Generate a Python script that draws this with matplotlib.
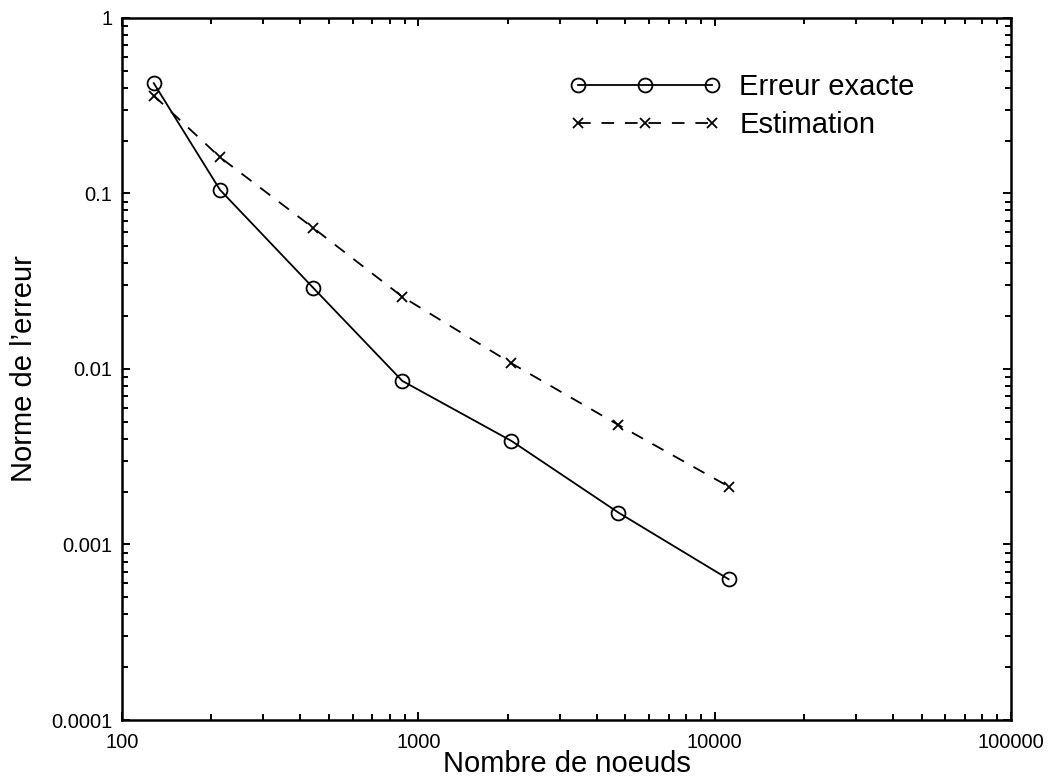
import matplotlib
matplotlib.use("Agg")
import matplotlib.pyplot as plt
from matplotlib.ticker import LogLocator, FixedLocator, FixedFormatter, NullFormatter

plt.rcParams['font.family'] = ['Liberation Sans', 'DejaVu Sans']

# nombre de noeuds du maillage
noeuds = [128, 214, 441, 883, 2062, 4732, 11145]
# norme de l'erreur
erreur_exacte = [0.425, 0.105, 0.0291, 0.00855, 0.00389, 0.00152, 0.000634]
estimation = [0.361, 0.161, 0.0638, 0.0258, 0.01077, 0.0048, 0.00214]

x_ticks = [100, 1000, 10000, 100000]
x_labels = ["100", "1000", "10000", "100000"]
y_ticks = [0.0001, 0.001, 0.01, 0.1, 1]
y_labels = ["0.0001", "0.001", "0.01", "0.1", "1"]

fig = plt.figure(figsize=(10.49, 7.81), dpi=100)
ax = fig.add_axes([0.1163, 0.0781, 0.8475, 0.8989])

ax.plot(noeuds, erreur_exacte, color="black", lw=1.3, marker="o", ms=10,
        mfc="none", mec="black", mew=1.3, label="Erreur exacte")
ax.plot(noeuds, estimation, color="black", lw=1.3, ls=(0, (7, 6)), marker="x",
        ms=7, mec="black", mew=1.3, label="Estimation")

ax.set_xscale("log")
ax.set_yscale("log")
ax.set_xlim(100, 100000)
ax.set_ylim(0.0001, 1)

ax.xaxis.set_major_locator(FixedLocator(x_ticks))
ax.xaxis.set_major_formatter(FixedFormatter(x_labels))
ax.yaxis.set_major_locator(FixedLocator(y_ticks))
ax.yaxis.set_major_formatter(FixedFormatter(y_labels))
ax.xaxis.set_minor_locator(LogLocator(base=10, subs=range(2, 10)))
ax.yaxis.set_minor_locator(LogLocator(base=10, subs=range(2, 10)))
ax.xaxis.set_minor_formatter(NullFormatter())
ax.yaxis.set_minor_formatter(NullFormatter())

ax.tick_params(which="both", direction="in", top=True, right=True, labelsize=14.5, width=1.4)
ax.tick_params(which="major", length=6)
ax.tick_params(which="minor", length=4)
ax.tick_params(axis="x", which="major", pad=9)
ax.tick_params(axis="y", which="major", pad=7)
for s in ax.spines.values():
    s.set_linewidth(1.8)

ax.set_xlabel("Nombre de noeuds", fontsize=21)
ax.set_ylabel("Norme de l’erreur", fontsize=21)
ax.xaxis.set_label_coords(0.5, -0.043)
ax.yaxis.set_label_coords(-0.095, 0.5)

ax.legend(loc="upper left", bbox_to_anchor=(0.503, 0.9215), frameon=False, fontsize=21,
          numpoints=3, handlelength=5.2, handletextpad=0.63, labelspacing=0.35,
          borderpad=0, borderaxespad=0)

fig.savefig("out.png", dpi=100)
